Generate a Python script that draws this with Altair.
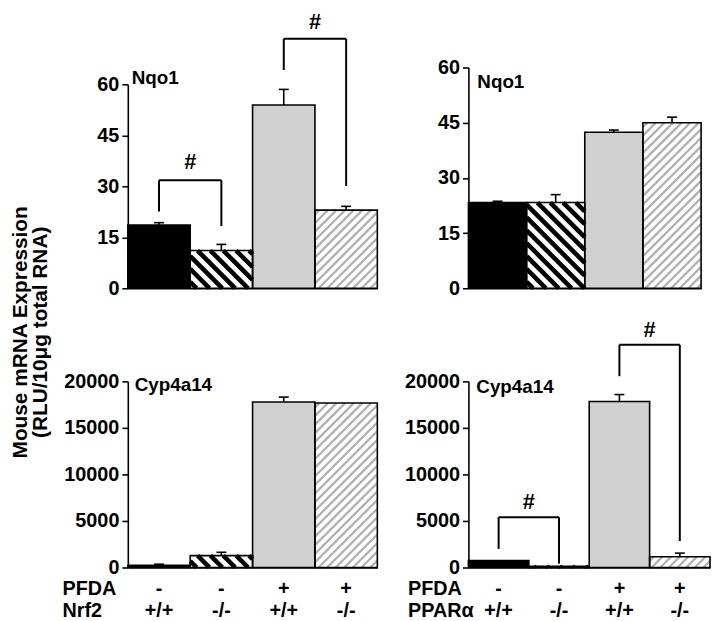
import altair as alt
import pandas as pd

# ---------------- data ----------------
pfda = ["-", "-", "+", "+"]
genotype = ["+/+", "-/-", "+/+", "-/-"]
bar_kinds = ["solid_black", "hatch_black", "solid_gray", "hatch_gray"]

nqo1_nrf2 = [18.6, 11.1, 53.9, 23.0]
nqo1_nrf2_err = [0.7, 1.8, 4.6, 1.1]
nqo1_ppara = [23.3, 23.3, 42.4, 45.0]
nqo1_ppara_err = [0.35, 2.15, 0.6, 1.5]
cyp_nrf2 = [250, 1280, 17775, 17670]
cyp_nrf2_err = [105, 355, 535, 0]
cyp_ppara = [740, 140, 17840, 1160]
cyp_ppara_err = [0, 0, 740, 385]

# significance brackets: (bar a, bar b, top, low end at a, low end at b, '#' height)
nqo1_nrf2_brackets = [(0, 1, 31.8, 22.6, 18.3, 37.2), (2, 3, 73.4, 64.2, 30.1, 78.3)]
nqo1_ppara_brackets = []
cyp_nrf2_brackets = []
cyp_ppara_brackets = [(0, 1, 5410, 2000, 420, 6990), (2, 3, 23930, 20555, 2846, 25460)]

nqo1_ticks = [0, 15, 30, 45, 60]
cyp_ticks = [0, 5000, 10000, 15000, 20000]

y_title = ["Mouse mRNA Expression", "(RLU/10\u03bcg total RNA)"]

# ---------------- styling ----------------
FONT = "Liberation Sans"
TICK_FS, ROW_FS, NAME_FS, TITLE_FS, HASH_FS = 20, 20, 19, 21, 22
fill_colors = ["black", "white", "#d0d0d0", "white"]
BLACK_HATCH_STEP, BLACK_HATCH_W = 13.0, 4.6
GRAY_HATCH_STEP, GRAY_HATCH_W = 8.7, 2.4
GRAY_HATCH_COLOR = "#b2b2b2"
PAD_LEFT = 2


def hatch_segments(i, v, W, k, step, direction):
    """Diagonal hatch lines clipped to bar i (data units), 45 degrees on screen."""
    H = v * k
    segs = []
    if H <= 0:
        return segs
    if direction == "back":  # '\' : u + v = c
        c = step / 2
        while c < W + H:
            u1, u2 = max(0.0, c - H), min(W, c)
            if u2 > u1:
                segs.append(dict(x=i + u1 / W, y=(c - u1) / k, x2=i + u2 / W, y2=(c - u2) / k))
            c += step
    else:  # '/' : u - v = c
        c = -H + step / 2
        while c < W:
            u1, u2 = max(0.0, c), min(W, c + H)
            if u2 > u1:
                segs.append(dict(x=i + u1 / W, y=(u1 - c) / k, x2=i + u2 / W, y2=(u2 - c) / k))
            c += step
    return segs


def panel(values, errs, brackets, ymax, ticks, w, h, top_px, name, name_x, name_y,
          row_label=None, row_x=0, ytitle=None):
    W = w / 4.0
    k = (h - top_px) / ymax
    xs = alt.Scale(domain=[0, 4], nice=False, zero=False)
    if top_px:
        ys = alt.Scale(domain=[0, ymax], nice=False, range=[h, top_px])
    else:
        ys = alt.Scale(domain=[0, ymax], nice=False)

    xaxis = alt.Axis(title=None, labels=False, ticks=False, grid=False,
                     domainColor="black", domainWidth=1.6)
    yargs = dict(values=ticks, format="d", tickSize=6, tickWidth=1.6, tickColor="black",
                 domainColor="black", domainWidth=1.6, labelFont=FONT, labelFontSize=TICK_FS,
                 labelFontWeight="bold", labelColor="black", labelPadding=3, grid=False)
    if ytitle:
        yargs.update(title=ytitle, titleX=PAD_LEFT - 104, titleY=267, titleAngle=270,
                     titleAlign="center", titleBaseline="alphabetic", titleFont=FONT,
                     titleFontSize=TITLE_FS, titleFontWeight="bold", titleColor="black",
                     titleLineHeight=20)
    else:
        yargs.update(title=None)
    yaxis = alt.Axis(**yargs)

    X = lambda f: alt.X(f, type="quantitative", scale=xs, axis=xaxis)
    Y = lambda f: alt.Y(f, type="quantitative", scale=ys, axis=yaxis)

    bdf = pd.DataFrame({"x": [0, 1, 2, 3], "x2": [1, 2, 3, 4], "y": values,
                        "y0": [0, 0, 0, 0], "kind": bar_kinds})
    bars = alt.Chart(bdf).mark_bar().encode(
        x=X("x"), x2=alt.X2("x2"), y=Y("y"), y2=alt.Y2("y0"),
        fill=alt.Fill("kind:N", scale=alt.Scale(domain=bar_kinds, range=fill_colors), legend=None),
    )

    black_h, gray_h = [], []
    for i, v in enumerate(values):
        if bar_kinds[i] == "hatch_black":
            black_h += hatch_segments(i, v, W, k, BLACK_HATCH_STEP, "back")
        elif bar_kinds[i] == "hatch_gray":
            gray_h += hatch_segments(i, v, W, k, GRAY_HATCH_STEP, "fwd")
    hb = alt.Chart(pd.DataFrame(black_h, columns=["x", "y", "x2", "y2"])).mark_rule(
        color="black", strokeWidth=BLACK_HATCH_W).encode(
        x=X("x"), y=Y("y"), x2=alt.X2("x2"), y2=alt.Y2("y2"))
    hg = alt.Chart(pd.DataFrame(gray_h, columns=["x", "y", "x2", "y2"])).mark_rule(
        color=GRAY_HATCH_COLOR, strokeWidth=GRAY_HATCH_W).encode(
        x=X("x"), y=Y("y"), x2=alt.X2("x2"), y2=alt.Y2("y2"))

    outline = alt.Chart(bdf).mark_bar(fillOpacity=0, stroke="black", strokeWidth=1.6).encode(
        x=X("x"), x2=alt.X2("x2"), y=Y("y"), y2=alt.Y2("y0"))

    erows = [dict(x=i + 0.5, y=v, y2=v + e) for i, (v, e) in enumerate(zip(values, errs)) if e > 0]
    edf = pd.DataFrame(erows, columns=["x", "y", "y2"])
    err = alt.Chart(edf).mark_rule(color="black", strokeWidth=1.6).encode(
        x=X("x"), y=Y("y"), y2=alt.Y2("y2"))
    cap = alt.Chart(edf).mark_rule(color="black", strokeWidth=1.6, xOffset=-5, x2Offset=5).encode(
        x=X("x"), x2=alt.X2("x"), y=Y("y2"))

    layers = [bars, hb, hg, outline, err, cap]

    if brackets:
        segs, hashes = [], []
        for a, b, top, la, lb, hy in brackets:
            xa, xb = a + 0.5, b + 0.5
            segs.append(dict(x=xa, y=la, x2=xa, y2=top))
            segs.append(dict(x=xa, y=top, x2=xb, y2=top))
            segs.append(dict(x=xb, y=top, x2=xb, y2=lb))
            hashes.append(dict(x=(xa + xb) / 2, y=hy, t="#"))
        layers.append(alt.Chart(pd.DataFrame(segs)).mark_rule(color="black", strokeWidth=2).encode(
            x=X("x"), y=Y("y"), x2=alt.X2("x2"), y2=alt.Y2("y2")))
        layers.append(alt.Chart(pd.DataFrame(hashes)).mark_text(
            font=FONT, fontSize=HASH_FS, fontWeight="bold", baseline="middle", color="black").encode(
            x=X("x"), y=Y("y"), text="t:N"))

    layers.append(alt.Chart(pd.DataFrame({"t": [name]})).mark_text(
        font=FONT, fontSize=NAME_FS, fontWeight="bold", align="left", baseline="middle",
        color="black").encode(x=alt.value(name_x), y=alt.value(name_y), text="t:N"))

    if row_label:
        cdf = pd.DataFrame({"x": [i + 0.5 for i in range(4)], "p": pfda, "g": genotype})
        tstyle = dict(font=FONT, fontSize=ROW_FS, fontWeight="bold", baseline="middle", color="black")
        layers.append(alt.Chart(cdf).mark_text(**tstyle).encode(
            x=X("x"), y=alt.value(h + 22), text="p:N"))
        layers.append(alt.Chart(cdf).mark_text(**tstyle).encode(
            x=X("x"), y=alt.value(h + 44), text="g:N"))
        ldf = pd.DataFrame({"a": ["PFDA"], "b": [row_label]})
        layers.append(alt.Chart(ldf).mark_text(align="left", **tstyle).encode(
            x=alt.value(row_x), y=alt.value(h + 22), text="a:N"))
        layers.append(alt.Chart(ldf).mark_text(align="left", **tstyle).encode(
            x=alt.value(row_x), y=alt.value(h + 44), text="b:N"))

    return alt.layer(*layers).properties(width=w, height=h)


tl = panel(nqo1_nrf2, nqo1_nrf2_err, nqo1_nrf2_brackets, 60, nqo1_ticks, 252, 223, 17,
           "Nqo1", 4, 11, ytitle=y_title)
tr = panel(nqo1_ppara, nqo1_ppara_err, nqo1_ppara_brackets, 60, nqo1_ticks, 235, 223, 0,
           "Nqo1", 9, 15)
bl = panel(cyp_nrf2, cyp_nrf2_err, cyp_nrf2_brackets, 20000, cyp_ticks, 252, 188, 0,
           "Cyp4a14", 7, 4, row_label="Nrf2", row_x=-66)
br = panel(cyp_ppara, cyp_ppara_err, cyp_ppara_brackets, 20000, cyp_ticks, 244, 188, 0,
           "Cyp4a14", 8, 6, row_label="PPAR\u03b1", row_x=-61)

chart = alt.concat(tl, tr, bl, br, columns=2, spacing={"row": 94, "column": 92},
                   bounds="flush").properties(
    padding={"left": PAD_LEFT, "top": 0, "right": 0, "bottom": 0}
).configure_view(stroke=None)

chart.save("out.html", embed_options={"renderer": "svg", "actions": False})
